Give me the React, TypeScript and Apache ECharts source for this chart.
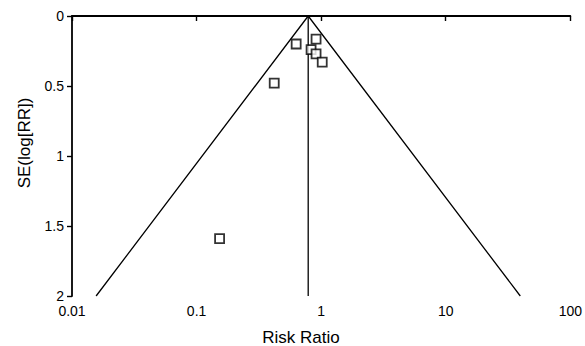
import React, { useEffect, useRef } from "react";
import * as echarts from "echarts";

const studyRR = [0.63, 0.91, 0.83, 0.91, 1.02, 0.42, 0.153];
const studySE = [0.2, 0.165, 0.24, 0.27, 0.33, 0.48, 1.59];
const pooledRR = 0.787;
const maxSE = 2;
const xTicks = ["0.01", "0.1", "1", "10", "100"];
const yTicks = ["0", "0.5", "1", "1.5", "2"];

export default function App() {
  const ref = useRef<HTMLDivElement>(null);
  useEffect(() => {
    if (!ref.current) return;
    const chart = echarts.init(ref.current, null, { renderer: "svg" });
    const font = "Liberation Sans, Arial, sans-serif";
    const lnP = Math.log(pooledRR);
    const funnel = [
      [Math.exp(lnP - 1.96 * maxSE), maxSE],
      [pooledRR, 0],
      [Math.exp(lnP + 1.96 * maxSE), maxSE],
    ];
    chart.setOption({
      animation: false,
      backgroundColor: "#fff",
      grid: { left: 72, right: 12, top: 16, bottom: 50 },
      xAxis: {
        type: "log",
        logBase: 10,
        min: 0.01,
        max: 100,
        axisLine: { lineStyle: { color: "#000", width: 1.8 } },
        axisTick: { lineStyle: { color: "#000", width: 1.4 }, length: 5 },
        splitLine: { show: false },
        axisLabel: {
          color: "#000",
          fontFamily: font,
          fontSize: 14,
          margin: 8,
          formatter: (v: number) => {
            const i = Math.round(Math.log10(v)) + 2;
            return xTicks[i] ?? String(v);
          },
        },
      },
      yAxis: {
        type: "value",
        inverse: true,
        min: 0,
        max: 2,
        interval: 0.5,
        axisLine: { show: true, lineStyle: { color: "#000", width: 1.8 } },
        axisTick: { show: true, lineStyle: { color: "#000", width: 1.4 }, length: 5 },
        splitLine: { show: false },
        axisLabel: {
          color: "#000",
          fontFamily: font,
          fontSize: 14,
          margin: 8,
          formatter: (v: number) => yTicks[Math.round(v * 2)] ?? String(v),
        },
      },
      graphic: [
        {
          type: "text",
          x: 24,
          y: 143,
          rotation: Math.PI / 2,
          style: {
            text: "SE(log[RR])",
            fill: "#000",
            font: `17px ${font}`,
            align: "center",
            verticalAlign: "middle",
          },
        },
        {
          type: "text",
          x: 301,
          y: 337,
          style: {
            text: "Risk Ratio",
            fill: "#000",
            font: `17px ${font}`,
            align: "center",
            verticalAlign: "middle",
          },
        },
      ],
      series: [
        {
          type: "line",
          data: funnel,
          symbol: "none",
          lineStyle: { color: "#000", width: 1.3 },
          z: 2,
        },
        {
          type: "line",
          data: [
            [pooledRR, 0],
            [pooledRR, maxSE],
          ],
          symbol: "none",
          lineStyle: { color: "#000", width: 1.3 },
          z: 2,
        },
        {
          type: "scatter",
          data: studyRR.map((r, i) => [r, studySE[i]]),
          symbol: "rect",
          symbolSize: 9,
          itemStyle: { color: "#fff", borderColor: "#000", borderWidth: 1.8 },
          z: 3,
        },
      ],
    });
    return () => chart.dispose();
  }, []);
  return (
    <div
      ref={ref}
      style={{ position: "fixed", left: 0, top: 0, width: 585, height: 346 }}
    />
  );
}
